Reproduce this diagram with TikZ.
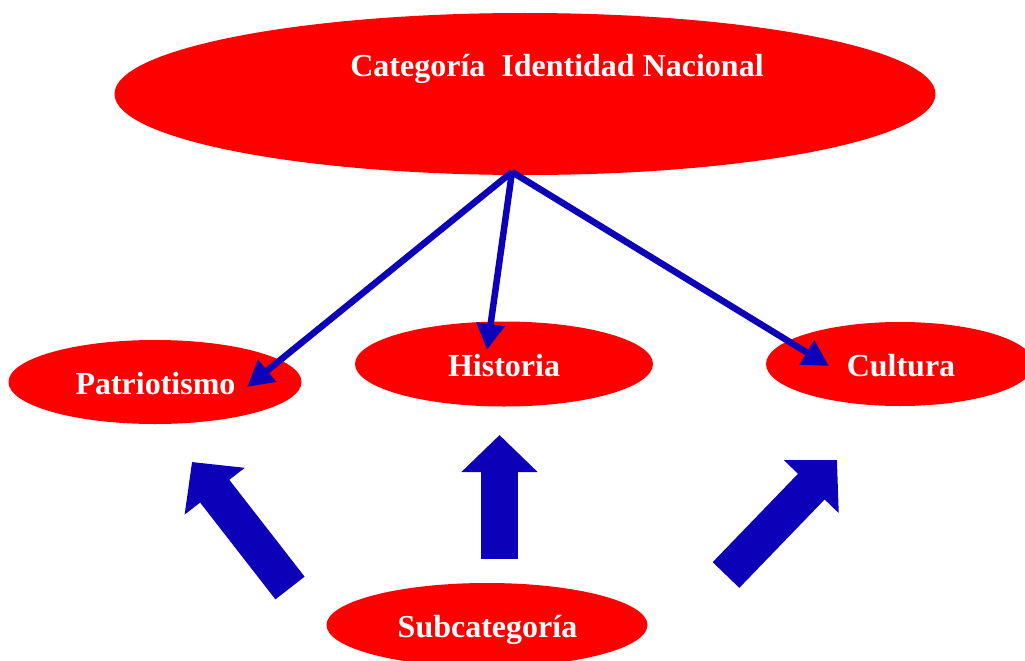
\documentclass[tikz,border=0pt]{standalone}
\usepackage{fontspec}
\setmainfont{Liberation Serif}
\usetikzlibrary{shapes.geometric,arrows.meta}
\definecolor{ovalred}{RGB}{255,0,0}
\definecolor{arrowblue}{RGB}{12,0,184}
\tikzset{
  oval/.style={ellipse, fill=ovalred, draw=none, inner sep=0pt},
  lbl/.style={text=white, font=\bfseries\fontsize{32}{38}\selectfont, inner sep=0pt, anchor=base},
  thinarrow/.style={draw=arrowblue, line width=6.5pt, line join=miter,
    -{Triangle[length=26pt,width=27pt]}},
  blockarrow/.style={draw=arrowblue, line width=37pt, line cap=butt,
    -{Triangle[length=37pt,width=74pt]}}
}
\begin{document}
\begin{tikzpicture}[x=1pt,y=-1pt]
\useasboundingbox (0,0) rectangle (1025,661);
\clip (0,0) rectangle (1025,661);
% ovals
\node[oval, minimum width=821pt, minimum height=162pt] (top) at (525,94) {};
\node[oval, minimum width=293pt, minimum height=84pt] (pat) at (155,382) {};
\node[oval, minimum width=298pt, minimum height=85pt] (his) at (504,364) {};
\node[oval, minimum width=268pt, minimum height=84pt] (cul) at (900,364) {};
\node[oval, minimum width=321pt, minimum height=84pt] (sub) at (487,625) {};
% labels
\node[lbl] (topT) at (557,77) {Categoría\ \ Identidad Nacional};
\node[lbl] (patT) at (155.5,394) {Patriotismo};
\node[lbl] (hisT) at (504,376) {Historia};
\node[lbl] (culT) at (901,376) {Cultura};
\node[lbl] (subT) at (487.5,637) {Subcategoría};
% thin arrows
\coordinate (hub) at (512,172);
\coordinate (patA) at (247,387);
\coordinate (hisA) at (487,350);
\coordinate (culA) at (829,366);
\draw[thinarrow] (hub) -- (patA);
\draw[thinarrow] (hub) -- (hisA);
\draw[thinarrow] (hub) -- (culA);
% block arrows
\coordinate (b1s) at (290,588);
\coordinate (b1e) at (192,462);
\coordinate (b2s) at (499.5,559);
\coordinate (b2e) at (499.5,435);
\coordinate (b3s) at (726,575);
\coordinate (b3e) at (837,460);
\draw[blockarrow] (b1s) -- (b1e);
\draw[blockarrow] (b2s) -- (b2e);
\draw[blockarrow] (b3s) -- (b3e);
\end{tikzpicture}
\end{document}
